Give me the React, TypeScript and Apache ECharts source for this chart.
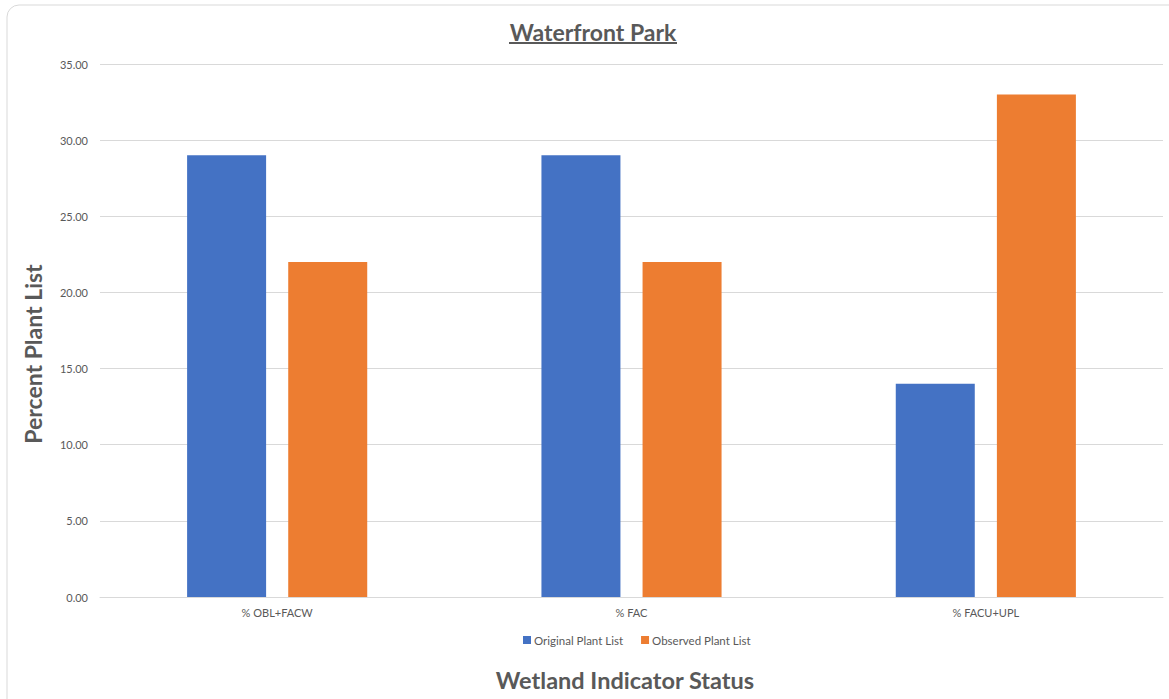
import React, { useEffect, useRef } from "react";
import * as echarts from "echarts";

const categories = ["% OBL+FACW", "% FAC", "% FACU+UPL"];
const originalValues = [29, 29, 14];
const observedValues = [22, 22, 33];
const seriesNames = ["Original Plant List", "Observed Plant List"];
const titleText = "Waterfront Park";
const yAxisTitle = "Percent Plant List";
const xAxisTitle = "Wetland Indicator Status";

const FONT = "Lato, 'Open Sans', sans-serif";
const TEXT = "#595959";

export default function App() {
  const ref = useRef<HTMLDivElement>(null);
  useEffect(() => {
    if (!ref.current) return;
    const chart = echarts.init(ref.current, undefined, { renderer: "svg" });
    chart.setOption({
      animation: false,
      backgroundColor: "#ffffff",
      textStyle: { fontFamily: FONT },
      grid: { left: 100, right: 6, top: 64, bottom: 102 },
      legend: {
        data: seriesNames,
        top: 629,
        left: 518,
        itemWidth: 8,
        itemHeight: 8,
        itemGap: 18,
        icon: "rect",
        textStyle: { color: TEXT, fontSize: 11.5, fontFamily: FONT, padding: [0, 0, 0, -2] },
      },
      xAxis: {
        type: "category",
        data: categories,
        axisLine: { lineStyle: { color: "#d9d9d9" } },
        axisTick: { show: false },
        axisLabel: { color: TEXT, fontSize: 11, margin: 10, fontFamily: FONT },
      },
      yAxis: {
        type: "value",
        min: 0,
        max: 35,
        interval: 5,
        axisLine: { show: false },
        axisTick: { show: false },
        splitLine: { lineStyle: { color: "#d9d9d9" } },
        axisLabel: {
          color: TEXT,
          fontSize: 11,
          margin: 12,
          fontFamily: FONT,
          formatter: (v: number) => v.toFixed(2),
        },
      },
      series: [
        {
          name: seriesNames[0],
          type: "bar",
          data: originalValues,
          barWidth: 79,
          barGap: "28%",
          itemStyle: { color: "#4472C4" },
        },
        {
          name: seriesNames[1],
          type: "bar",
          data: observedValues,
          barWidth: 79,
          itemStyle: { color: "#ED7D31" },
        },
      ],
      graphic: [
        {
          type: "rect",
          shape: { x: 7, y: 5, width: 1190, height: 740, r: 12 },
          style: { fill: "none", stroke: "#d9d9d9", lineWidth: 1 },
          z: -1,
          silent: true,
        },
        {
          type: "text",
          x: 593,
          y: 32,
          style: {
            text: titleText,
            fill: TEXT,
            font: `bold 23px ${FONT}`,
            textAlign: "center",
            textVerticalAlign: "middle",
          },
        },
        {
          type: "rect",
          shape: { x: 509, y: 42, width: 168, height: 2 },
          style: { fill: TEXT },
        },
        {
          type: "text",
          x: 33,
          y: 354,
          rotation: Math.PI / 2,
          style: {
            text: yAxisTitle,
            fill: TEXT,
            font: `bold 23px ${FONT}`,
            textAlign: "center",
            textVerticalAlign: "middle",
          },
        },
        {
          type: "text",
          x: 625,
          y: 680,
          style: {
            text: xAxisTitle,
            fill: TEXT,
            font: `bold 23.5px ${FONT}`,
            textAlign: "center",
            textVerticalAlign: "middle",
          },
        },
      ],
    });
    return () => chart.dispose();
  }, []);
  return (
    <div
      ref={ref}
      style={{ position: "fixed", left: 0, top: 0, width: 1169, height: 699 }}
    />
  );
}
